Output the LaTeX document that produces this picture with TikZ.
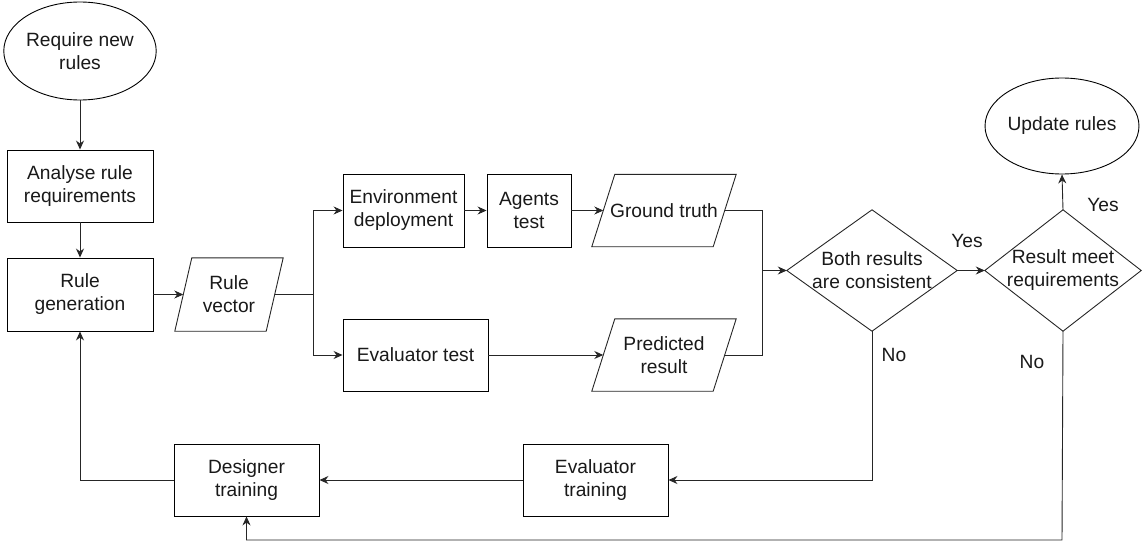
\documentclass[tikz,border=0pt]{standalone}
\usepackage{fontspec}
\setmainfont{Liberation Sans}
\usetikzlibrary{shapes.geometric,arrows.meta,calc}
\begin{document}
\begin{tikzpicture}[x=1pt,y=-1pt,
  every node/.style={font=\fontsize{19.2}{23}\selectfont, align=center, inner sep=0pt, text=black!90},
  boxnode/.style={draw, rectangle, line width=0.9pt},
  ellnode/.style={draw, ellipse, line width=0.9pt},
  plain/.style={rectangle},
  conn/.style={line width=0.9pt, draw=black!85},
  arr/.style={conn, -{Stealth[length=9pt,width=8pt]}},
  lbl/.style={font=\fontsize{19.2}{23}\selectfont}
]
\useasboundingbox (0,0) rectangle (1146,543);

% nodes
\node[ellnode, minimum width=146pt, minimum height=98pt] (req) at (80,51) {Require new\\rules};
\node[boxnode, minimum width=146pt, minimum height=72pt] (ana) at (80,186) {Analyse rule\\requirements};
\node[boxnode, minimum width=146pt, minimum height=73pt] (gen) at (80,294.5) {Rule\\generation};
\node[plain, minimum width=91pt, minimum height=73pt] (vec) at (229,294.5) {Rule\\vector};
\node[boxnode, minimum width=121pt, minimum height=73pt] (env) at (403.5,210.5) {Environment\\deployment};
\node[boxnode, minimum width=84pt, minimum height=73pt] (agt) at (529,210.5) {Agents\\test};
\node[plain, minimum width=121pt, minimum height=72pt] (gt) at (664,210.5) {Ground truth};
\node[boxnode, minimum width=145pt, minimum height=72pt] (evt) at (415.5,355) {Evaluator test};
\node[plain, minimum width=121pt, minimum height=72pt] (pr) at (664,355) {Predicted\\result};
\node[plain, minimum width=170pt, minimum height=121pt] (d1) at (872,270.5) {Both results\\are consistent};
\node[plain, minimum width=156pt, minimum height=121pt] (d2) at (1063,270.5) {Result meet\\requirements};
\node[ellnode, minimum width=146pt, minimum height=96pt] (upd) at (1062,126) {Update rules};
\node[boxnode, minimum width=145pt, minimum height=72pt] (evtr) at (595.5,480) {Evaluator\\training};
\node[boxnode, minimum width=145pt, minimum height=72pt] (dtr) at (246.5,480) {Designer\\training};

% parallelograms and diamonds
\draw[conn] ($(vec.south west)+(-8.5,0)$) -- ($(vec.north west)+(8.5,0)$) -- ($(vec.north east)+(8.5,0)$) -- ($(vec.south east)+(-8.5,0)$) -- cycle;
\draw[conn] ($(gt.south west)+(-11.5,0)$) -- ($(gt.north west)+(11.5,0)$) -- ($(gt.north east)+(11.5,0)$) -- ($(gt.south east)+(-11.5,0)$) -- cycle;
\draw[conn] ($(pr.south west)+(-11.5,0)$) -- ($(pr.north west)+(11.5,0)$) -- ($(pr.north east)+(11.5,0)$) -- ($(pr.south east)+(-11.5,0)$) -- cycle;
\draw[conn] (d1.north) -- (d1.east) -- (d1.south) -- (d1.west) -- cycle;
\draw[conn] (d2.north) -- (d2.east) -- (d2.south) -- (d2.west) -- cycle;

% junction coordinates
\coordinate (sp) at (313,294.5);
\coordinate (jn) at (762,270.5);
\coordinate (c3) at (1062,540);

% connectors
\draw[arr] (req) -- (ana);
\draw[arr] (ana) -- (gen);
\draw[arr] (gen) -- (vec);
\draw[conn] (vec.east) -- (sp);
\draw[arr] (sp) |- (env.west);
\draw[arr] (sp) |- (evt.west);
\draw[arr] (env) -- (agt);
\draw[arr] (agt.east) -- (gt.west);
\draw[arr] (evt.east) -- (pr.west);
\draw[conn] (gt.east) -| (jn);
\draw[conn] (pr.east) -| (jn);
\draw[arr] (jn) -- (d1.west);
\draw[arr] (d1.east) -- (d2.west);
\draw[arr] (d2.north) -- (upd.south);
\draw[arr] (d1.south) |- (evtr.east);
\draw[arr] (evtr.west) -- (dtr.east);
\draw[arr] (dtr.west) -| (gen.south);
\draw[arr] (d2.south) -- (c3) -| (dtr.south);

% labels
\node[lbl] (y1) at (967,241) {Yes};
\node[lbl] (y2) at (1103,205) {Yes};
\node[lbl] (n1) at (894,355) {No};
\node[lbl] (n2) at (1032,362) {No};
\end{tikzpicture}
\end{document}
